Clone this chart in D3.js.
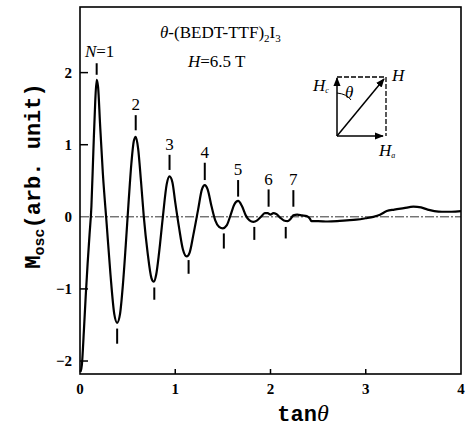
<!DOCTYPE html>
<html lang="en">
<head>
    <meta charset="UTF-8">
    <title>Mosc vs tan theta</title>
    <script src="https://d3js.org/d3.v7.min.js"></script>
    <style>
        body { margin: 0; background: #fff; }
        .frame { fill: none; stroke: #000; stroke-width: 1.6px; }
        .curve { fill: none; stroke: #000; stroke-width: 2.2px; stroke-linejoin: round; }
        .zero { stroke: #000; stroke-width: 0.8px; stroke-dasharray: 9,2,2,2; }
        .mark { stroke: #000; stroke-width: 2px; }
        .tick-label { font-family: "Liberation Serif", serif; font-weight: bold; font-size: 15px; }
        .serif { font-family: "Liberation Serif", serif; font-size: 17px; }
        .mono { font-family: "Liberation Mono", monospace; font-weight: bold; font-size: 22px; }
    </style>
</head>
<body>
    <div id="chart"></div>
    <script>
        // tan(theta) and Mosc
        const tanTheta = [0.005, 0.02, 0.04, 0.06, 0.08, 0.10, 0.12, 0.14, 0.16, 0.175, 0.19, 0.21, 0.24, 0.28, 0.32, 0.36, 0.39, 0.42, 0.45, 0.48,
            0.51, 0.54, 0.565, 0.585, 0.61, 0.64, 0.67, 0.71, 0.75, 0.775, 0.80, 0.83, 0.87, 0.91, 0.94, 0.97, 1.00, 1.04, 1.08, 1.12,
            1.15, 1.19, 1.24, 1.28, 1.31, 1.34, 1.38, 1.42, 1.46, 1.50, 1.54, 1.58, 1.62, 1.66, 1.70, 1.74, 1.78, 1.82, 1.86, 1.90,
            1.94, 1.97, 2.00, 2.03, 2.06, 2.10, 2.14, 2.18, 2.21, 2.24, 2.28, 2.33, 2.38, 2.41, 2.43, 2.5, 2.6, 2.7, 2.8, 2.9,
            3.0, 3.08, 3.15, 3.22, 3.3, 3.4, 3.5, 3.58, 3.65, 3.72, 3.8, 3.9, 4.0];
        const mosc = [-2.15, -2.05, -1.6, -1.1, -0.65, -0.25, 0.15, 0.9, 1.6, 1.9, 1.8, 1.3, 0.6, -0.1, -0.8, -1.35, -1.47, -1.35, -0.95, -0.4,
            0.2, 0.75, 1.05, 1.11, 0.95, 0.5, 0.0, -0.5, -0.85, -0.9, -0.8, -0.5, 0.0, 0.45, 0.56, 0.48, 0.2, -0.15, -0.45, -0.55,
            -0.5, -0.25, 0.1, 0.38, 0.44, 0.38, 0.15, -0.05, -0.14, -0.16, -0.12, 0.02, 0.17, 0.22, 0.15, 0.02, -0.05, -0.07, -0.05, 0.0,
            0.05, 0.05, 0.03, 0.05, 0.04, -0.01, -0.05, -0.06, -0.03, 0.02, 0.03, 0.02, 0.01, -0.02, -0.06, -0.06, -0.065, -0.06, -0.05, -0.04,
            -0.02, 0.0, 0.03, 0.08, 0.10, 0.12, 0.14, 0.13, 0.10, 0.08, 0.07, 0.07, 0.08];

        // Landau level markers above maxima: label, x, tick from/to, label y
        const peakLabels = ["1", "2", "3", "4", "5", "6", "7"];
        const peakX = [0.175, 0.585, 0.94, 1.31, 1.66, 1.98, 2.24];
        const peakTickTop = [2.13, 1.41, 0.86, 0.75, 0.51, 0.38, 0.37];
        const peakTickBottom = [1.97, 1.20, 0.65, 0.51, 0.28, 0.14, 0.14];
        const peakLabelY = [2.22, 1.48, 0.93, 0.81, 0.58, 0.44, 0.44];

        // markers below minima
        const troughX = [0.39, 0.78, 1.14, 1.51, 1.83, 2.16];
        const troughTickTop = [-1.55, -0.98, -0.60, -0.23, -0.14, -0.14];
        const troughTickBottom = [-1.76, -1.15, -0.79, -0.44, -0.32, -0.30];

        const xTicks = [0, 1, 2, 3, 4];
        const yTicks = [-2, -1, 0, 1, 2];

        const width = 473, height = 434;
        const svg = d3.select("#chart").append("svg")
            .attr("width", width).attr("height", height);

        const x = d3.scaleLinear().domain([0, 4]).range([80, 461]);
        const y = d3.scaleLinear().domain([-2.18, 2.91]).range([374, 7]);

        // frame
        svg.append("rect").attr("class", "frame")
            .attr("x", x(0)).attr("y", y(2.91))
            .attr("width", x(4) - x(0)).attr("height", y(-2.18) - y(2.91));

        // dashed zero line
        svg.append("line").attr("class", "zero")
            .attr("x1", x(0)).attr("x2", x(4)).attr("y1", y(0)).attr("y2", y(0));

        // inward ticks
        svg.selectAll(".ytick").data(yTicks.filter(d => d !== 0)).join("line")
            .attr("stroke", "#000").attr("stroke-width", 1.5)
            .attr("x1", x(0)).attr("x2", x(0) + 8)
            .attr("y1", d => y(d)).attr("y2", d => y(d));
        svg.selectAll(".xtick").data(xTicks.slice(1, 4)).join("line")
            .attr("stroke", "#000").attr("stroke-width", 1.5)
            .attr("x1", d => x(d)).attr("x2", d => x(d))
            .attr("y1", y(-2.18)).attr("y2", y(-2.18) - 5);

        // tick labels
        svg.selectAll(".ylab").data(yTicks).join("text")
            .attr("class", "tick-label")
            .attr("x", x(0) - 8).attr("y", d => y(d) + 5)
            .attr("text-anchor", "end")
            .text(d => d < 0 ? "\u2212" + Math.abs(d) : d);
        svg.selectAll(".xlab").data(xTicks).join("text")
            .attr("class", "tick-label")
            .attr("x", d => x(d)).attr("y", 394)
            .attr("text-anchor", "middle")
            .text(d => d);

        // curve
        const pts = tanTheta.map((t, i) => [t, mosc[i]]);
        svg.append("path").datum(pts).attr("class", "curve")
            .attr("d", d3.line().x(d => x(d[0])).y(d => y(d[1])).curve(d3.curveMonotoneX));

        // level markers
        svg.selectAll(".pk").data(peakX).join("line").attr("class", "mark")
            .attr("x1", d => x(d)).attr("x2", d => x(d))
            .attr("y1", (d, i) => y(peakTickTop[i])).attr("y2", (d, i) => y(peakTickBottom[i]));
        svg.selectAll(".tr").data(troughX).join("line").attr("class", "mark")
            .attr("x1", d => x(d)).attr("x2", d => x(d))
            .attr("y1", (d, i) => y(troughTickTop[i])).attr("y2", (d, i) => y(troughTickBottom[i]));

        const pl = svg.selectAll(".pl").data(peakX).join("text")
            .attr("class", "serif").attr("font-size", 16)
            .attr("x", d => x(d)).attr("y", (d, i) => y(peakLabelY[i]))
            .attr("text-anchor", "middle");
        pl.each(function (d, i) {
            const t = d3.select(this);
            if (i === 0) {
                t.attr("x", x(d) + 3);
                t.append("tspan").attr("font-style", "italic").text("N");
                t.append("tspan").text("=" + peakLabels[i]);
            } else {
                t.text(peakLabels[i]);
            }
        });

        // title
        const title = svg.append("text").attr("class", "serif").attr("x", 160).attr("y", 38);
        title.append("tspan").attr("font-style", "italic").text("\u03b8");
        title.append("tspan").text("-(BEDT-TTF)");
        title.append("tspan").attr("font-size", 11).attr("dy", 4).text("2");
        title.append("tspan").attr("dy", -4).text("I");
        title.append("tspan").attr("font-size", 11).attr("dy", 4).text("3");

        const field = svg.append("text").attr("class", "serif").attr("x", 188).attr("y", 67);
        field.append("tspan").attr("font-style", "italic").text("H");
        field.append("tspan").text("=6.5 T");

        // inset: field geometry
        const ins = svg.append("g");
        const bx0 = 337, bx1 = 386, by0 = 77, by1 = 136;
        ins.append("defs").append("marker").attr("id", "arr")
            .attr("viewBox", "0 0 10 10").attr("refX", 9).attr("refY", 5)
            .attr("markerWidth", 6).attr("markerHeight", 6).attr("orient", "auto")
            .append("path").attr("d", "M0,1 L10,5 L0,9 Z").attr("fill", "#000");
        ins.append("line").attr("x1", bx0).attr("y1", by1).attr("x2", bx0).attr("y2", by0 + 1)
            .attr("stroke", "#000").attr("stroke-width", 1.5).attr("marker-end", "url(#arr)");
        ins.append("line").attr("x1", bx0).attr("y1", by1).attr("x2", bx1 - 3).attr("y2", by1)
            .attr("stroke", "#000").attr("stroke-width", 1.5).attr("marker-end", "url(#arr)");
        ins.append("path").attr("d", `M${bx0},${by0} H${bx1} V${by1}`)
            .attr("fill", "none").attr("stroke", "#000").attr("stroke-width", 1.3)
            .attr("stroke-dasharray", "5,2");
        ins.append("line").attr("x1", bx0).attr("y1", by1).attr("x2", bx1 - 2).attr("y2", by0 + 2)
            .attr("stroke", "#000").attr("stroke-width", 1.5).attr("marker-end", "url(#arr)");
        ins.append("path").attr("d", `M${bx0},${by0 + 16} Q${bx0 + 10},${by0 + 17} ${bx0 + 14},${by0 + 23}`)
            .attr("fill", "none").attr("stroke", "#000").attr("stroke-width", 1);
        ins.append("text").attr("class", "serif").attr("font-size", 11).attr("font-style", "italic")
            .attr("x", 345).attr("y", 98).text("\u03b8");
        const hc = ins.append("text").attr("class", "serif").attr("font-style", "italic").attr("font-size", 15)
            .attr("x", 313).attr("y", 91);
        hc.append("tspan").text("H");
        hc.append("tspan").attr("font-size", 8).attr("dy", 2).text("c");
        ins.append("text").attr("class", "serif").attr("font-style", "italic").attr("font-size", 15)
            .attr("x", 392).attr("y", 81).text("H");
        const ha = ins.append("text").attr("class", "serif").attr("font-style", "italic").attr("font-size", 15)
            .attr("x", 379).attr("y", 156);
        ha.append("tspan").text("H");
        ha.append("tspan").attr("font-size", 8).attr("dy", 2).text("a");

        // axis titles
        const yl = svg.append("text").attr("class", "mono")
            .attr("transform", "translate(40,176) rotate(-90)")
            .attr("text-anchor", "middle");
        yl.append("tspan").text("M");
        yl.append("tspan").attr("font-size", 15).attr("dy", 4).text("osc");
        yl.append("tspan").attr("dy", -4).text("(arb. unit)");

        const xl = svg.append("text").attr("class", "mono")
            .attr("x", 303).attr("y", 421).attr("text-anchor", "middle");
        xl.append("tspan").text("tan");
        xl.append("tspan").attr("font-family", "Liberation Serif").attr("font-style", "italic")
            .attr("font-weight", "normal").attr("font-size", 24).text("\u03b8");
    </script>
</body>
</html>
